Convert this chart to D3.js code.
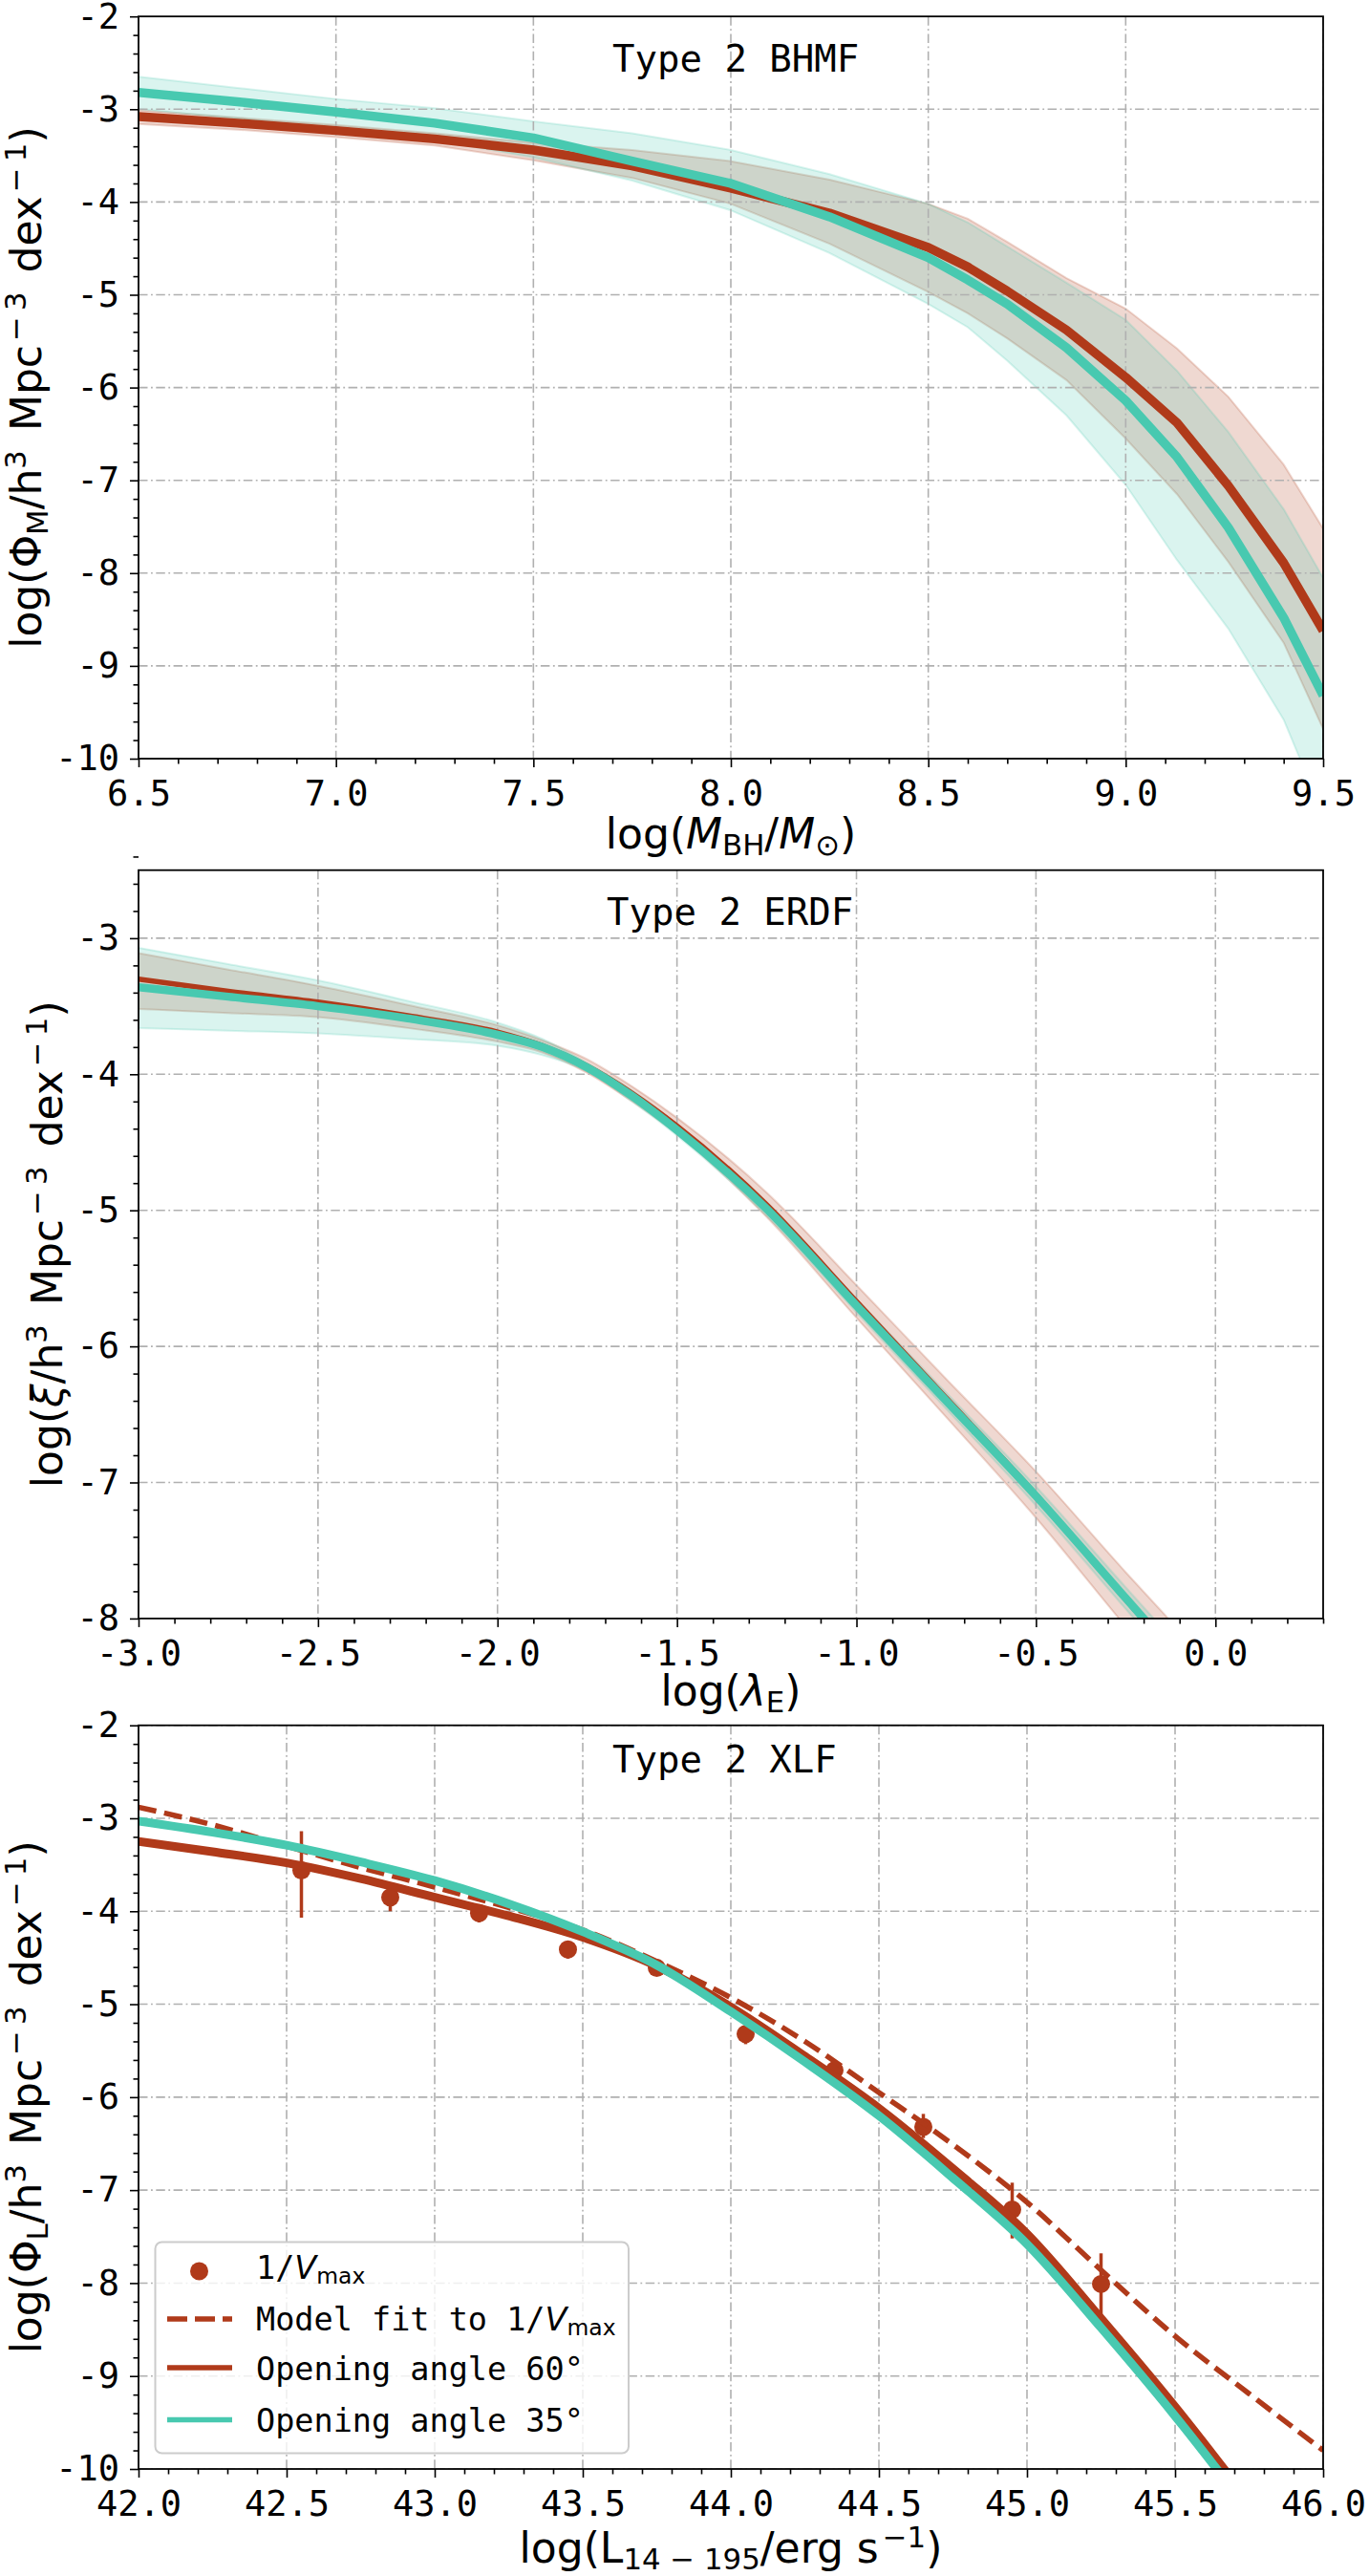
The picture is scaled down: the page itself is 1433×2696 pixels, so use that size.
<!DOCTYPE html>
<html><head><meta charset="utf-8">
<script src="https://cdn.jsdelivr.net/npm/d3@7"></script>
<style>body{margin:0;background:#fff}svg{display:block}</style>
</head><body>
<script>
// ---------------- DATA ----------------
// Panel 1: Type 2 BHMF
const bhmfX      = [6.5, 6.75, 7.0, 7.25, 7.5, 7.75, 8.0, 8.25, 8.5, 8.6, 8.7, 8.85, 9.0, 9.13, 9.26, 9.4, 9.5];
const bhmfTeal   = [-2.82,-2.92,-3.03,-3.15,-3.31,-3.56,-3.80,-4.16,-4.60,-4.84,-5.10,-5.57,-6.14,-6.75,-7.51,-8.48,-9.32];
const bhmfTealHi = [-2.65,-2.77,-2.89,-2.99,-3.13,-3.26,-3.44,-3.70,-4.02,-4.22,-4.48,-4.87,-5.27,-5.82,-6.48,-7.31,-8.05];
const bhmfTealLo = [-3.00,-3.10,-3.21,-3.33,-3.52,-3.77,-4.09,-4.55,-5.10,-5.35,-5.71,-6.30,-7.05,-7.86,-8.60,-9.58,-10.6];
const bhmfRed    = [-3.08,-3.15,-3.23,-3.32,-3.44,-3.61,-3.85,-4.12,-4.49,-4.70,-4.96,-5.38,-5.89,-6.38,-7.06,-7.89,-8.62];
const bhmfRedHi  = [-3.01,-3.09,-3.17,-3.26,-3.36,-3.44,-3.56,-3.76,-4.02,-4.18,-4.43,-4.82,-5.15,-5.58,-6.10,-6.83,-7.52];
const bhmfRedLo  = [-3.16,-3.22,-3.30,-3.39,-3.55,-3.74,-4.02,-4.45,-4.97,-5.20,-5.47,-5.92,-6.55,-7.15,-7.88,-8.75,-9.68];
const bhmfXTicks = [6.5, 7.0, 7.5, 8.0, 8.5, 9.0, 9.5];
const bhmfYTicks = [-10,-9,-8,-7,-6,-5,-4,-3,-2];

// Panel 2: Type 2 ERDF
const erdfX      = [-3.0,-2.75,-2.5,-2.25,-2.0,-1.875,-1.75,-1.625,-1.5,-1.25,-1.0,-0.75,-0.5,-0.25,-0.1];
const erdfTeal   = [-3.36,-3.43,-3.50,-3.59,-3.71,-3.80,-3.95,-4.16,-4.41,-4.99,-5.70,-6.40,-7.10,-7.85,-8.30];
const erdfTealHi = [-3.07,-3.19,-3.31,-3.46,-3.62,-3.74,-3.92,-4.12,-4.37,-4.94,-5.65,-6.34,-7.03,-7.77,-8.21];
const erdfTealLo = [-3.66,-3.68,-3.70,-3.74,-3.79,-3.86,-3.98,-4.20,-4.45,-5.04,-5.75,-6.46,-7.17,-7.93,-8.39];
const erdfRed    = [-3.30,-3.39,-3.47,-3.57,-3.69,-3.79,-3.94,-4.14,-4.38,-4.96,-5.67,-6.38,-7.09,-7.86,-8.31];
const erdfRedHi  = [-3.11,-3.23,-3.35,-3.49,-3.64,-3.75,-3.89,-4.09,-4.32,-4.87,-5.55,-6.24,-6.92,-7.66,-8.09];
const erdfRedLo  = [-3.52,-3.55,-3.58,-3.66,-3.76,-3.84,-3.99,-4.20,-4.44,-5.05,-5.79,-6.52,-7.26,-8.06,-8.53];
const erdfXTicks = [-3.0,-2.5,-2.0,-1.5,-1.0,-0.5,0.0];
const erdfYTicks = [-8,-7,-6,-5,-4,-3];

// Panel 3: Type 2 XLF
const xlfX    = [42.0,42.25,42.5,42.75,43.0,43.25,43.5,43.75,44.0,44.25,44.5,44.75,45.0,45.25,45.5,45.75,46.0];
const xlfRed  = [-3.25,-3.36,-3.48,-3.65,-3.85,-4.05,-4.28,-4.59,-5.03,-5.56,-6.12,-6.77,-7.47,-8.38,-9.33,-10.35,null];
const xlfTeal = [-3.03,-3.15,-3.29,-3.47,-3.67,-3.92,-4.22,-4.58,-5.08,-5.62,-6.20,-6.87,-7.58,-8.48,-9.43,-10.45,null];
const xlfFit  = [-2.88,-3.07,-3.30,-3.53,-3.74,-3.96,-4.20,-4.54,-4.93,-5.40,-5.95,-6.51,-7.13,-7.86,-8.57,-9.19,-9.80];
const vmaxX     = [42.55,42.85,43.15,43.45,43.75,44.05,44.35,44.65,44.95,45.25];
const vmaxY     = [-3.56,-3.85,-4.02,-4.41,-4.61,-5.32,-5.71,-6.32,-7.21,-8.01];
const vmaxErrUp = [0.42,0.12,0.09,0.09,0.07,0.10,0.10,0.14,0.29,0.33];
const vmaxErrLo = [0.51,0.15,0.10,0.10,0.07,0.11,0.11,0.12,0.31,0.37];
const xlfXTicks = [42.0,42.5,43.0,43.5,44.0,44.5,45.0,45.5,46.0];
const xlfYTicks = [-10,-9,-8,-7,-6,-5,-4,-3,-2];

const legendLabels = ["1/V_max", "Model fit to 1/V_max", "Opening angle 60°", "Opening angle 35°"];

// ---------------- STYLE ----------------
const RED = "#b03a1a", TEAL = "#48c9b0";
const MONO = "DejaVu Sans Mono", SANS = "DejaVu Sans";
const W = 1433, H = 2696, L = 145, R = 1385;

const svg = d3.select("body").append("svg").attr("width", W).attr("height", H);
svg.append("rect").attr("width", W).attr("height", H).attr("fill", "#fff");
const defs = svg.append("defs");

function rich(sel, segs, fs) {
  let cur = 0;
  segs.forEach(s => {
    const shift = s.sub ? 0.16 * fs : (s.sup ? -0.37 * fs : 0);
    const ts = sel.append("tspan").text(s.t).attr("dy", shift - cur);
    if (s.sub || s.sup) ts.attr("font-size", 0.7 * fs);
    if (s.it) ts.attr("font-style", "italic");
    if (s.ff) ts.attr("font-family", s.ff);
    if (s.dx) ts.attr("dx", s.dx);
    cur = shift;
  });
}

function range(a, b, step) {
  const n = Math.round((b - a) / step);
  return d3.range(n + 1).map(i => +(a + i * step).toFixed(4));
}

function makePanel(cfg, idx) {
  const x = d3.scaleLinear().domain(cfg.xDomain).range([L, R]);
  const y = d3.scaleLinear().domain(cfg.yDomain).range([cfg.bottom, cfg.top]);
  const g = svg.append("g");
  const cid = "clip" + idx;
  defs.append("clipPath").attr("id", cid).append("rect")
    .attr("x", L).attr("y", cfg.top).attr("width", R - L).attr("height", cfg.bottom - cfg.top);
  const plot = g.append("g").attr("clip-path", `url(#${cid})`);

  // bands
  (cfg.bands || []).forEach(b => {
    const data = b.x.map((v, i) => ({x: v, lo: b.lo[i], hi: b.hi[i]}));
    plot.append("path").datum(data)
      .attr("d", d3.area().curve(cfg.curve || d3.curveLinear).x(d => x(d.x)).y0(d => y(d.lo)).y1(d => y(d.hi)))
      .attr("fill", b.color).attr("fill-opacity", 0.2)
      .attr("stroke", b.color).attr("stroke-opacity", 0.2).attr("stroke-width", 2);
  });

  // grid
  const grid = plot.append("g").attr("stroke", "#b0b0b0").attr("stroke-width", 1.6)
    .attr("stroke-dasharray", "9.5,3.5,1.8,3.5").attr("fill", "none");
  cfg.xTicks.forEach(t => grid.append("line").attr("x1", x(t)).attr("x2", x(t)).attr("y1", cfg.top).attr("y2", cfg.bottom));
  cfg.yTicks.forEach(t => grid.append("line").attr("x1", L).attr("x2", R).attr("y1", y(t)).attr("y2", y(t)));

  // points
  if (cfg.points) {
    const p = cfg.points;
    const pts = p.x.map((v, i) => ({x: v, y: p.y[i], up: p.up[i], lo: p.lo[i]}));
    plot.append("g").selectAll("line").data(pts).join("line")
      .attr("x1", d => x(d.x)).attr("x2", d => x(d.x))
      .attr("y1", d => y(d.y + d.up)).attr("y2", d => y(d.y - d.lo))
      .attr("stroke", RED).attr("stroke-width", 3.5);
    plot.append("g").selectAll("circle").data(pts).join("circle")
      .attr("cx", d => x(d.x)).attr("cy", d => y(d.y)).attr("r", 9.5).attr("fill", RED);
  }

  // lines
  (cfg.lines || []).forEach(ln => {
    const data = ln.x.map((v, i) => ({x: v, y: ln.y[i]}));
    plot.append("path").datum(data)
      .attr("d", d3.line().defined(d => d.y != null).curve(ln.curve || cfg.curve || d3.curveLinear).x(d => x(d.x)).y(d => y(d.y)))
      .attr("fill", "none").attr("stroke", ln.color).attr("stroke-width", ln.width)
      .attr("stroke-dasharray", ln.dash || null).attr("stroke-linejoin", "round");
  });

  // axes
  const fmtX = v => d3.format(".1f")(v).replace("−", "-");
  const fmtY = v => d3.format("d")(v).replace("−", "-");
  const xMinor = range(cfg.xDomain[0], cfg.xDomain[1], 0.1).filter(v => !cfg.xTicks.some(t => Math.abs(t - v) < 1e-6));
  const yMinor = range(cfg.yMinorStart, cfg.yDomain[1], 0.2).filter(v => !cfg.yTicks.some(t => Math.abs(t - v) < 1e-6));

  const styleAxis = a => {
    a.select(".domain").remove();
    a.selectAll(".tick line").attr("stroke", "#000").attr("stroke-width", 1.6);
    a.selectAll(".tick text").attr("fill", "#000").attr("font-family", MONO).attr("font-size", 37);
  };
  g.append("g").attr("transform", `translate(0,${cfg.bottom})`)
    .call(d3.axisBottom(x).tickValues(xMinor).tickSize(5.5).tickFormat("")).call(styleAxis);
  g.append("g").attr("transform", `translate(0,${cfg.bottom})`)
    .call(d3.axisBottom(x).tickValues(cfg.xTicks).tickSize(9).tickPadding(13.5).tickFormat(fmtX)).call(styleAxis);
  g.append("g").attr("transform", `translate(${L},0)`)
    .call(d3.axisLeft(y).tickValues(yMinor).tickSize(5.5).tickFormat("")).call(styleAxis);
  g.append("g").attr("transform", `translate(${L},0)`)
    .call(d3.axisLeft(y).tickValues(cfg.yTicks).tickSize(9).tickPadding(11).tickFormat(fmtY)).call(styleAxis);

  // spines
  g.append("rect").attr("x", L).attr("y", cfg.top).attr("width", R - L).attr("height", cfg.bottom - cfg.top)
    .attr("fill", "none").attr("stroke", "#000").attr("stroke-width", 1.8);

  // title
  g.append("text").attr("x", cfg.titleX).attr("y", cfg.top + cfg.titleDy)
    .attr("font-family", MONO).attr("font-size", 39).attr("fill", "#000").text(cfg.title);

  // x label
  const xl = g.append("text").attr("x", (L + R) / 2).attr("y", cfg.xLabelY)
    .attr("text-anchor", "middle").attr("font-family", SANS).attr("font-size", 44).attr("fill", "#000");
  rich(xl, cfg.xLabel, 44);

  // y label
  const yl = g.append("text")
    .attr("transform", `translate(${cfg.yLabelX},${(cfg.top + cfg.bottom) / 2}) rotate(-90)`)
    .attr("text-anchor", "middle").attr("font-family", SANS).attr("font-size", 44).attr("fill", "#000");
  rich(yl, cfg.yLabel, 44);

  return {x, y, g};
}

const yTail = [
  {t: "/h"}, {t: "3", sup: true}, {t: " Mpc", dx: 6}, {t: "−\u20093", sup: true, dx: 4},
  {t: " dex", dx: 6}, {t: "−\u20091", sup: true, dx: 4}, {t: ")"}
];

// Panel 1
makePanel({
  xDomain: [6.5, 9.5], yDomain: [-10, -2], yMinorStart: -10, top: 17.2, bottom: 794,
  xTicks: bhmfXTicks, yTicks: bhmfYTicks,
  bands: [
    {x: bhmfX, lo: bhmfRedLo, hi: bhmfRedHi, color: RED},
    {x: bhmfX, lo: bhmfTealLo, hi: bhmfTealHi, color: TEAL}
  ],
  lines: [
    {x: bhmfX, y: bhmfRed, color: RED, width: 9.5},
    {x: bhmfX, y: bhmfTeal, color: TEAL, width: 9.5}
  ],
  title: "Type 2 BHMF", titleX: 641, titleDy: 58,
  xLabelY: 888,
  xLabel: [{t: "log("}, {t: "M", it: true}, {t: "BH", sub: true}, {t: "/"}, {t: "M", it: true}, {t: "⊙", sub: true}, {t: ")"}],
  yLabelX: 43,
  yLabel: [{t: "log(Φ"}, {t: "M", sub: true}].concat(yTail)
}, 1);

// Panel 2
makePanel({
  xDomain: [-3, 0.3], yDomain: [-8, -2.5], yMinorStart: -8, top: 910.7, bottom: 1693.9,
  xTicks: erdfXTicks, yTicks: erdfYTicks, curve: d3.curveMonotoneX,
  bands: [
    {x: erdfX, lo: erdfRedLo, hi: erdfRedHi, color: RED},
    {x: erdfX, lo: erdfTealLo, hi: erdfTealHi, color: TEAL}
  ],
  lines: [
    {x: erdfX, y: erdfRed, color: RED, width: 5.5},
    {x: erdfX, y: erdfTeal, color: TEAL, width: 8.5}
  ],
  title: "Type 2 ERDF", titleX: 635, titleDy: 57,
  xLabelY: 1785,
  xLabel: [{t: "log("}, {t: "λ", it: true}, {t: "E", sub: true}, {t: ")"}],
  yLabelX: 65,
  yLabel: [{t: "log("}, {t: "ξ", it: true}].concat(yTail)
}, 2);

// Panel 3
const p3 = makePanel({
  xDomain: [42, 46], yDomain: [-10, -2], yMinorStart: -10, top: 1805.7, bottom: 2584,
  xTicks: xlfXTicks, yTicks: xlfYTicks, curve: d3.curveMonotoneX,
  points: {x: vmaxX, y: vmaxY, up: vmaxErrUp, lo: vmaxErrLo},
  lines: [
    {x: xlfX, y: xlfFit, color: RED, width: 5.5, dash: "19,8.5"},
    {x: xlfX, y: xlfRed, color: RED, width: 9},
    {x: xlfX, y: xlfTeal, color: TEAL, width: 9}
  ],
  title: "Type 2 XLF", titleX: 641, titleDy: 49.5,
  xLabelY: 2682,
  xLabel: [{t: "log(L"}, {t: "14 − 195", sub: true}, {t: "/erg s"}, {t: "−1", sup: true, dx: 4}, {t: ")"}],
  yLabelX: 43,
  yLabel: [{t: "log(Φ"}, {t: "L", sub: true}].concat(yTail)
}, 3);

// Legend (panel 3)
const lg = p3.g.append("g");
lg.append("rect").attr("x", 162.5).attr("y", 2346.5).attr("width", 495.5).attr("height", 221)
  .attr("rx", 7).attr("fill", "#fff").attr("fill-opacity", 0.8).attr("stroke", "#cccccc").attr("stroke-width", 2);
const rows = [2377, 2427, 2478, 2532.6];
const hx0 = 175, hx1 = 243, tx = 268, lfs = 33.5;
lg.append("circle").attr("cx", (hx0 + hx1) / 2 - 0.5).attr("cy", rows[0]).attr("r", 9.5).attr("fill", RED);
lg.append("line").attr("x1", hx0).attr("x2", hx1).attr("y1", rows[1]).attr("y2", rows[1])
  .attr("stroke", RED).attr("stroke-width", 5.5).attr("stroke-dasharray", "21,8");
lg.append("line").attr("x1", hx0).attr("x2", hx1).attr("y1", rows[2]).attr("y2", rows[2])
  .attr("stroke", RED).attr("stroke-width", 5.5);
lg.append("line").attr("x1", hx0).attr("x2", hx1).attr("y1", rows[3]).attr("y2", rows[3])
  .attr("stroke", TEAL).attr("stroke-width", 5.5);

function legendText(label, yb) {
  const t = lg.append("text").attr("x", tx).attr("y", yb).attr("font-family", MONO).attr("font-size", lfs).attr("fill", "#000");
  const m = label.match(/^(.*)V_max$/);
  if (m) {
    rich(t, [{t: m[1]}, {t: "V", it: true, ff: SANS}, {t: "max", sub: true, ff: SANS}], lfs);
  } else {
    t.text(label);
  }
}
legendText(legendLabels[0], rows[0] + 8);
legendText(legendLabels[1], rows[1] + 12);
legendText(legendLabels[2], rows[2] + 12.5);
legendText(legendLabels[3], rows[3] + 12.5);
</script>
</body></html>
